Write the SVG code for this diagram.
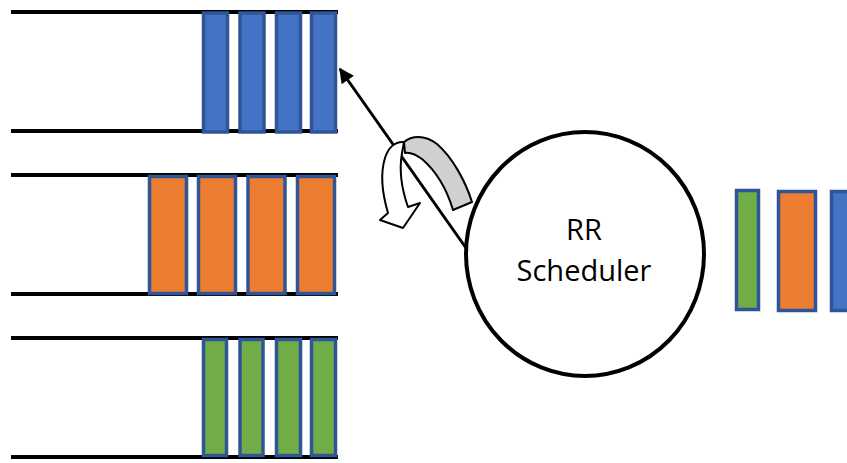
<svg xmlns="http://www.w3.org/2000/svg" width="847" height="463" viewBox="0 0 847 463">
  <style>
    .rail { stroke: #000; stroke-width: 4; fill: none; }
    .pkt { stroke: #2F5597; stroke-width: 3.5; }
    .blue { fill: #4472C4; }
    .orange { fill: #ED7D31; }
    .green { fill: #70AD47; }
    .label { font-family: "Open Sans", "Liberation Sans", sans-serif; font-size: 29px; fill: #000; text-anchor: middle; }
  </style>
  <defs>
    <marker id="head" viewBox="0 0 10 10" refX="9" refY="5" markerWidth="5.5" markerHeight="5" orient="auto" markerUnits="strokeWidth">
      <path d="M0,0 L10,5 L0,10 Z" fill="#000"/>
    </marker>
  </defs>
  <rect width="847" height="463" fill="#fff"/>

  <!-- queue 1: blue packets -->
  <g id="queue-blue">
    <line class="rail" x1="11" y1="12" x2="338" y2="12"/>
    <line class="rail" x1="11" y1="131" x2="338" y2="131"/>
    <rect class="pkt blue" x="203.5" y="13" width="24" height="119"/>
    <rect class="pkt blue" x="240" y="13" width="24" height="119"/>
    <rect class="pkt blue" x="276.5" y="13" width="24" height="119"/>
    <rect class="pkt blue" x="311.5" y="13" width="24" height="119"/>
  </g>

  <!-- queue 2: orange packets -->
  <g id="queue-orange">
    <line class="rail" x1="11" y1="175" x2="338" y2="175"/>
    <line class="rail" x1="11" y1="294" x2="338" y2="294"/>
    <rect class="pkt orange" x="149.5" y="176.5" width="37" height="117"/>
    <rect class="pkt orange" x="198.5" y="176.5" width="37" height="117"/>
    <rect class="pkt orange" x="248" y="176.5" width="37" height="117"/>
    <rect class="pkt orange" x="297.5" y="176.5" width="37" height="117"/>
  </g>

  <!-- queue 3: green packets -->
  <g id="queue-green">
    <line class="rail" x1="11" y1="338" x2="338" y2="338"/>
    <line class="rail" x1="11" y1="457" x2="338" y2="457"/>
    <rect class="pkt green" x="203.5" y="339.5" width="23" height="116"/>
    <rect class="pkt green" x="240" y="339.5" width="23" height="116"/>
    <rect class="pkt green" x="276.5" y="339.5" width="24" height="116"/>
    <rect class="pkt green" x="311.5" y="339.5" width="24" height="116"/>
  </g>

  <!-- scheduler -->
  <g id="scheduler">
    <ellipse cx="585" cy="254" rx="119" ry="122" fill="#fff" stroke="#000" stroke-width="4"/>
    <text class="label" x="584" y="240">RR</text>
    <text class="label" x="584" y="281">Scheduler</text>
  </g>

  <!-- served output: one packet per queue -->
  <g id="output">
    <rect class="pkt green" x="736.5" y="190.5" width="22" height="119"/>
    <rect class="pkt orange" x="778.5" y="191.5" width="37" height="119"/>
    <rect class="pkt blue" x="831.5" y="191.5" width="37" height="119"/>
  </g>

  <!-- pointer hand and rotation arrow -->
  <g id="connectors">
    <path d="M404,142 C411,136 424,134 437,144 C452,157 465,180 472,202 L453,210 C447,190 436,171 422,159 C415,154 409,152 405,153 Z" fill="#D0D0D0" stroke="#000" stroke-width="2" stroke-linejoin="round"/>
    <line x1="466" y1="248" x2="340" y2="69" stroke="#000" stroke-width="3" marker-end="url(#head)"/>
    <path d="M404,142 C395,141 388,148 385,158 C380,174 383,196 388,213 L380,220 L403,228 L420,203 L408,207 C402,190 399,170 402,153 Z" fill="#fff" stroke="#000" stroke-width="2" stroke-linejoin="round"/>
  </g>
</svg>
